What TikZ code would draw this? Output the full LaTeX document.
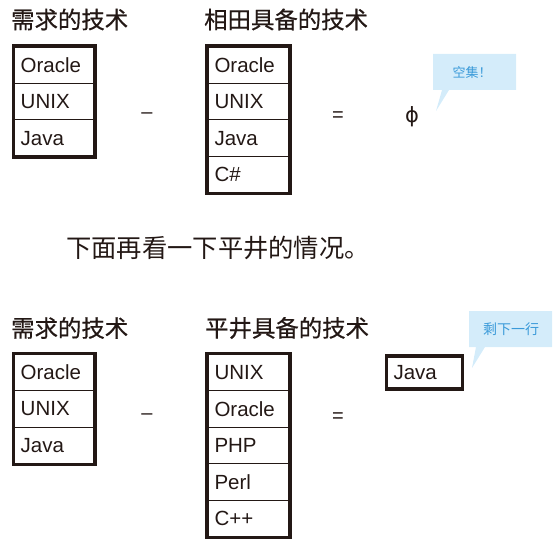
\documentclass[tikz,border=0pt]{standalone}
\usepackage{fontspec}
\setmainfont{Liberation Sans}
\newfontfamily\cjk{Noto Sans CJK SC}
\newfontfamily\cjkb[FakeBold=0.6]{Noto Sans CJK SC}
\newfontfamily\symf{DejaVu Sans}
\definecolor{ink}{HTML}{231815}
\definecolor{calloutfill}{HTML}{D4ECFA}
\definecolor{callouttext}{HTML}{3A9AD9}
\tikzset{
  cell/.style={draw=ink, line width=0.8pt, minimum height=36.6pt, text width=68pt, inner xsep=7pt, inner ysep=0pt, align=left, font=\fontsize{20.5}{20.5}\selectfont, text=ink},
  frame/.style={draw=ink, line width=3.4pt},
  title/.style={anchor=west, font=\cjkb\fontsize{23.4}{23.4}\selectfont, text=ink, inner sep=0pt},
  op/.style={font=\fontsize{20}{20}\selectfont, text=ink, inner sep=0pt},
  callout/.style={fill=calloutfill, draw=none},
  callouttxt/.style={font=\cjk\fontsize{13}{13}\selectfont, text=callouttext, inner sep=0pt}
}
\begin{document}
\begin{tikzpicture}[x=1pt,y=-1pt]
\useasboundingbox (0,0) rectangle (555,543);
% titles
\node[title] (t1) at (11,19.5) {需求的技术};
\node[title] (t2) at (204,19.5) {相田具备的技术};
\node[title] (t3) at (11,328) {需求的技术};
\node[title] (t4) at (205,328) {平井具备的技术};
% top-left table
\begin{scope}[every node/.style={cell, minimum width=81pt, text width=67pt}]
\node (a1) at (54.2,64.9) {Oracle};
\node (a2) at (54.2,101.5) {UNIX};
\node (a3) at (54.2,138.1) {Java};
\end{scope}
\draw[frame] (a1.north west) rectangle (a3.south east);
% top-right table
\begin{scope}[every node/.style={cell, minimum width=82pt, text width=68pt}]
\node (b1) at (248.5,64.9) {Oracle};
\node (b2) at (248.5,101.5) {UNIX};
\node (b3) at (248.5,138.1) {Java};
\node (b4) at (248.5,174.7) {C\#};
\end{scope}
\draw[frame] (b1.north west) rectangle (b4.south east);
% operators
\node[op] (m1) at (147,116) {–};
\node[op] (e1) at (338,116.5) {=};
\node[font=\symf\fontsize{21}{21}\selectfont, text=ink, inner sep=0pt] (phi) at (412,117) {ϕ};
% callout 1
\fill[callout] (433,54) -- (516,54) -- (516,90) -- (449,90) -- (436,111) -- (442,90) -- (433,90) -- cycle;
\node[callouttxt] (c1) at (472,72.5) {空集！};
% middle sentence
\node[anchor=west, font=\cjk\fontsize{25.3}{25.3}\selectfont, text=ink, inner sep=0pt] (mid) at (66,248) {下面再看一下平井的情况。};
% bottom-left table
\begin{scope}[every node/.style={cell, minimum width=81pt, text width=67pt}]
\node (p1) at (54.2,372.3) {Oracle};
\node (p2) at (54.2,408.9) {UNIX};
\node (p3) at (54.2,445.5) {Java};
\end{scope}
\draw[frame] (p1.north west) rectangle (p3.south east);
% bottom-right table
\begin{scope}[every node/.style={cell, minimum width=82pt, text width=68pt}]
\node (q1) at (248.5,372.3) {UNIX};
\node (q2) at (248.5,408.9) {Oracle};
\node (q3) at (248.5,445.5) {PHP};
\node (q4) at (248.5,482.1) {Perl};
\node (q5) at (248.5,518.7) {C++};
\end{scope}
\draw[frame] (q1.north west) rectangle (q5.south east);
\node[op] (m2) at (147,417) {–};
\node[op] (e2) at (338,417.5) {=};
% result box
\node[cell, frame, minimum width=76pt, text width=62pt, minimum height=33pt] (r1) at (424.5,372.5) {Java};
% callout 2
\fill[callout] (469,311) -- (552,311) -- (552,347) -- (485,347) -- (472,368) -- (476,347) -- (469,347) -- cycle;
\node[callouttxt, font=\cjk\fontsize{14}{14}\selectfont] (c2) at (511,329) {剩下一行};
\end{tikzpicture}
\end{document}
